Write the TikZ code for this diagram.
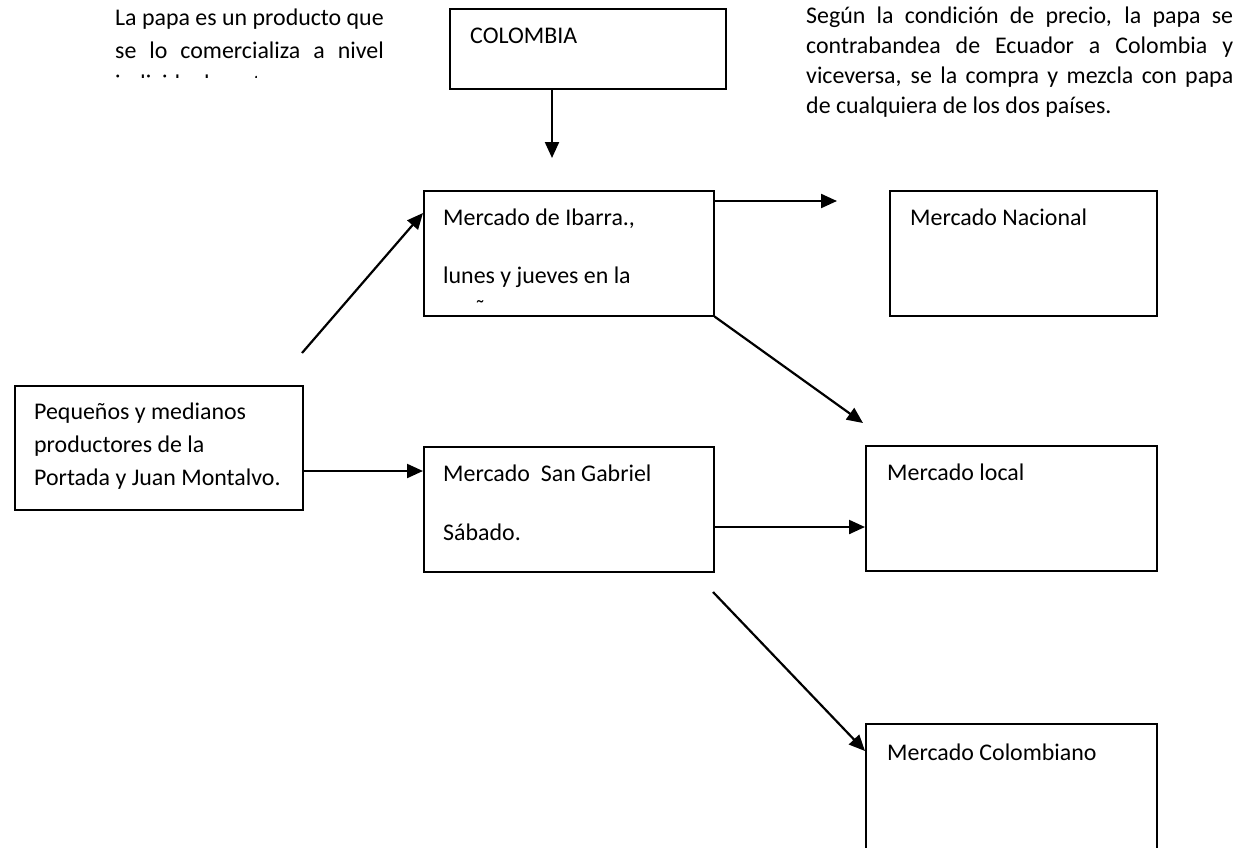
\documentclass[tikz,border=0pt]{standalone}
\usepackage{fontspec}
\setmainfont{Carlito}
\usetikzlibrary{arrows.meta}
\newlength\tlw
\begin{document}
\setbox0\hbox{\fontsize{23.9}{33}\selectfont La papa es un producto que}\global\tlw=\wd0
\begin{tikzpicture}[x=1pt,y=-1pt,
  box/.style={draw, line width=1.5pt, anchor=north west, inner sep=0pt},
  txt/.style={anchor=base west, inner sep=0pt, align=left, font=\fontsize{23.9}{33}\selectfont},
  arr/.style={line width=2.2pt, -{Triangle[length=16pt,width=14pt]}}]
\useasboundingbox (0,0) rectangle (1239,847);
\fill[white] (0,0) rectangle (1239,847);
% boxes
\node[box, minimum width=276pt, minimum height=80pt] (col) at (449,8) {};
\node[box, minimum width=290pt, minimum height=125pt] (ib) at (423,190) {};
\node[box, minimum width=267pt, minimum height=125pt] (nac) at (889,190) {};
\node[box, minimum width=291pt, minimum height=125pt] (loc) at (865,445) {};
\node[box, minimum width=288pt, minimum height=124pt] (prod) at (14,385) {};
\node[box, minimum width=290pt, minimum height=125pt] (sg) at (423,446) {};
\node[box, minimum width=291pt, minimum height=200pt] (colb) at (865,723) {};
% texts (multi-line nodes are placed at the baseline of their last line)
\node[txt] (tcol) at (470,43) {COLOMBIA};
\node[txt] (tib1) at (443,225) {Mercado de Ibarra.,};
\begin{scope}
\clip (424,191) rectangle (712,303.3);
\node[txt] (tib2) at (443,316) {lunes y jueves en la\\mañana.};
\end{scope}
\node[txt] (tnac) at (910,225) {Mercado Nacional};
\node[txt] (tloc) at (887,480) {Mercado local};
\node[txt] (tprod) at (34,485) {Pequeños y medianos\\productores de la\\Portada y Juan Montalvo.};
\node[txt] (tsg1) at (443,481) {Mercado\ \ San Gabriel};
\node[txt] (tsg2) at (443,540) {Sábado.};
\node[txt] (tcolb) at (887,760) {Mercado Colombiano};
\begin{scope}
\clip (0,0) rectangle (440,77.5);
\node[txt] (tl) at (115,91) {La papa es un producto que\\\makebox[\tlw][s]{se lo comercializa a nivel}\\individualmente};
\end{scope}
\node[txt, font=\fontsize{23.9}{30}\selectfont] (tr) at (806,113) {\makebox[427pt][s]{Según la condición de precio, la papa se}\\\makebox[427pt][s]{contrabandea de Ecuador a Colombia y}\\\makebox[427pt][s]{viceversa, se la compra y mezcla con papa}\\de cualquiera de los dos países.};
% connectors
\coordinate (c1) at (552,158);
\draw[arr] (col.south -| c1) -- (c1);
\coordinate (c2) at (837,201);
\draw[arr] (ib.east |- c2) -- (c2);
\coordinate (c3) at (863,423);
\draw[arr] (ib.south east) -- (c3);
\coordinate (c4) at (302,353);
\draw[arr] (c4) -- ([yshift=-23pt]ib.north west);
\path (prod.north east) ++(0,86) coordinate (c5);
\draw[arr] (c5) -- (c5 -| sg.west);
\path (sg.north east) ++(0,81) coordinate (c6);
\draw[arr] (c6) -- (c6 -| loc.west);
\coordinate (c7) at (713,592);
\draw[arr] (c7) -- ([yshift=-28pt]colb.north west);
\end{tikzpicture}
\end{document}
